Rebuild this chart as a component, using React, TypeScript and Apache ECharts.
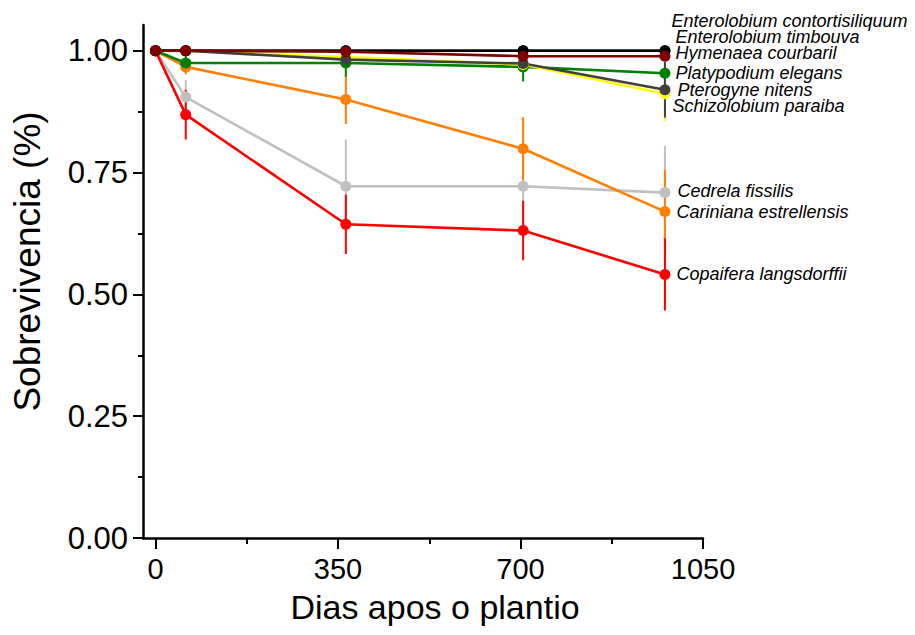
import React, { useEffect, useRef } from "react";
import * as echarts from "echarts";

const days = [0, 58, 365, 705, 977];

const speciesNames = [
  "Cedrela fissilis",
  "Cariniana estrellensis",
  "Copaifera langsdorffii",
  "Platypodium elegans",
  "Schizolobium paraiba",
  "Pterogyne nitens",
  "Enterolobium timbouva",
  "Enterolobium contortisiliquum",
  "Hymenaea courbaril",
];

const cedrela = [1, 0.905, 0.722, 0.722, 0.709];
const cariniana = [1, 0.967, 0.9, 0.799, 0.67];
const copaifera = [1, 0.869, 0.644, 0.631, 0.541];
const platypodium = [1, 0.975, 0.975, 0.967, 0.954];
const schizolobium = [1, 1, 0.987, 0.972, 0.912];
const pterogyne = [1, 1, 0.982, 0.974, 0.92];
const timbouva = [1, 1, 1, 1, 1];
const contortisiliquum = [1, 1, 1, 1, 1];
const hymenaea = [1, 1, 0.998, 0.989, 0.989];

const cedrelaErr = [0, 0.035, 0.096, 0.096, 0.096];
const carinianaErr = [0, 0.015, 0.05, 0.065, 0.086];
const copaiferaErr = [0, 0.051, 0.061, 0.061, 0.074];
const platypodiumErr = [0, 0.017, 0.028, 0.03, 0.02];
const schizolobiumErr = [0, 0, 0.01, 0.01, 0.056];
const pterogyneErr = [0, 0, 0.01, 0.01, 0.057];
const timbouvaErr = [0, 0, 0, 0, 0];
const contortisiliquumErr = [0, 0, 0, 0, 0];
const hymenaeaErr = [0, 0, 0, 0, 0];

const values = [cedrela, cariniana, copaifera, platypodium, schizolobium, pterogyne, timbouva, contortisiliquum, hymenaea];
const errors = [cedrelaErr, carinianaErr, copaiferaErr, platypodiumErr, schizolobiumErr, pterogyneErr, timbouvaErr, contortisiliquumErr, hymenaeaErr];

const colors = ["#c0c0c0", "#ff8000", "#ff0000", "#008000", "#ffff00", "#404040", "#202020", "#000000", "#800000"];
// label offsets relative to the last point (px)
const labelOffsets = [
  [7, -2],
  [6, 0],
  [6, 0],
  [5, 0],
  [2, 12],
  [7, 0],
  [5, -14],
  [1, -30],
  [5, -3],
];

const xLabelTicks = [0, 350, 700, 1050];
const xMinorTicks = [175, 525, 875];
const yLabelTicks = [0, 0.25, 0.5, 0.75, 1.0];
const yMinorTicks = [0.125, 0.375, 0.625, 0.875];

const FONT = "Arial, 'Liberation Sans', sans-serif";

export default function App() {
  const ref = useRef<HTMLDivElement>(null);
  useEffect(() => {
    if (!ref.current) return;
    const chart = echarts.init(ref.current, null, { renderer: "svg" });
    const series: any[] = [];
    speciesNames.forEach((name, i) => {
      const vals = values[i];
      const errs = errors[i];
      series.push({
        type: "custom",
        name: name + " err",
        xAxisIndex: 0,
        yAxisIndex: 0,
        silent: true,
        data: days.map((d, k) => [d, vals[k] - errs[k], vals[k] + errs[k]]),
        encode: { x: 0, y: [1, 2] },
        renderItem: (params: any, api: any) => {
          const x = api.value(0);
          const p1 = api.coord([x, api.value(1)]);
          const p2 = api.coord([x, api.value(2)]);
          return {
            type: "line",
            shape: { x1: p1[0], y1: p1[1], x2: p2[0], y2: p2[1] },
            style: { stroke: colors[i], lineWidth: 2 },
          };
        },
      });
      series.push({
        type: "line",
        name,
        xAxisIndex: 0,
        yAxisIndex: 0,
        data: days.map((d, k) => {
          const item: any = { value: [d, vals[k]] };
          if (k === days.length - 1) {
            item.label = {
              show: true,
              position: "right",
              distance: 0,
              offset: labelOffsets[i],
              formatter: name,
              fontFamily: FONT,
              fontStyle: "italic",
              fontSize: 18,
              lineHeight: 14,
              color: "#000",
            };
          }
          return item;
        }),
        symbol: "circle",
        symbolSize: 11,
        showSymbol: true,
        itemStyle: { color: colors[i] },
        lineStyle: { color: colors[i], width: 2.6 },
        emphasis: { disabled: true },
      });
    });

    chart.setOption({
      animation: false,
      backgroundColor: "#fff",
      grid: { left: 143, right: 212, top: 25, bottom: 97, containLabel: false, outerBoundsMode: "none" },
      xAxis: [
        {
          type: "value",
          min: -24,
          max: 1050,
          position: "bottom",
          axisLine: { show: true, onZero: false, lineStyle: { color: "#000", width: 2.5 } },
          axisTick: { show: true, customValues: xLabelTicks, length: 11, lineStyle: { color: "#000", width: 2 } },
          axisLabel: {
            customValues: xLabelTicks,
            fontSize: 29,
            color: "#000",
            fontFamily: FONT,
            margin: 16,
            formatter: (v: number) => String(v),
          },
          splitLine: { show: false },
          name: "Dias apos o plantio",
          nameLocation: "middle",
          nameGap: 52,
          nameTextStyle: { fontSize: 34, color: "#000", fontFamily: FONT, padding: [0, 0, 0, 24] },
        },
        {
          type: "value",
          min: -24,
          max: 1050,
          position: "bottom",
          axisLine: { show: false, onZero: false },
          axisTick: { show: true, customValues: xMinorTicks, length: 6, lineStyle: { color: "#000", width: 2 } },
          axisLabel: { show: false },
          splitLine: { show: false },
        },
      ],
      yAxis: [
        {
          type: "value",
          min: 0,
          max: 1.053,
          position: "left",
          axisLine: { show: true, onZero: false, lineStyle: { color: "#000", width: 2.5 } },
          axisTick: { show: true, customValues: yLabelTicks, length: 10, lineStyle: { color: "#000", width: 2 } },
          axisLabel: {
            customValues: yLabelTicks,
            fontSize: 31,
            color: "#000",
            fontFamily: FONT,
            margin: 15,
            formatter: (v: number) => v.toFixed(2),
          },
          splitLine: { show: false },
          name: "Sobrevivencia (%)",
          nameLocation: "middle",
          nameGap: 97,
          nameTextStyle: { fontSize: 37, color: "#000", fontFamily: FONT, padding: [0, 0, 0, 40] },
        },
        {
          type: "value",
          min: 0,
          max: 1.053,
          position: "left",
          axisLine: { show: false, onZero: false },
          axisTick: { show: true, customValues: yMinorTicks, length: 5, lineStyle: { color: "#000", width: 2 } },
          axisLabel: { show: false },
          splitLine: { show: false },
        },
      ],
      series,
    });
    return () => chart.dispose();
  }, []);
  return <div ref={ref} style={{ position: "fixed", left: 0, top: 0, width: 915, height: 635 }} />;
}
